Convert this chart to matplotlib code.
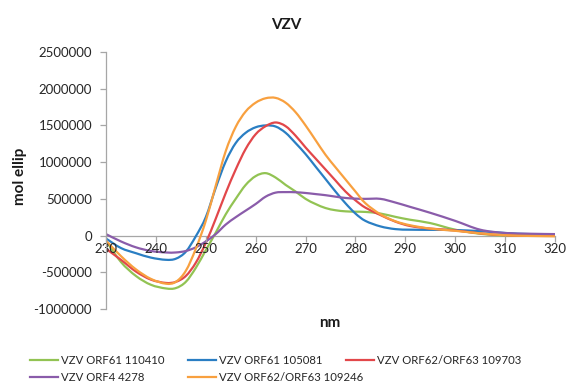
import matplotlib
matplotlib.use("Agg")
import matplotlib.pyplot as plt
import numpy as np
from matplotlib.lines import Line2D
from matplotlib.path import Path
from matplotlib.patches import PathPatch

plt.rcParams['font.family'] = ['Lato', 'DejaVu Sans']

nm = [230, 233, 236, 239, 242, 244, 246, 248, 250, 252, 254, 256, 258, 260, 262,
      264, 266, 268, 270, 272, 274, 276, 278, 280, 282, 285, 288, 291, 295, 300,
      305, 310, 315, 320]

orf61_110410 = [-70000, -360000, -550000, -670000, -720000, -715000, -630000, -440000,
                -200000, 40000, 290000, 500000, 690000, 810000, 850000, 790000, 690000,
                600000, 500000, 430000, 375000, 345000, 330000, 325000, 322000, 300000,
                255000, 215000, 170000, 80000, 25000, 0, 0, 0]
orf61_105081 = [-40000, -170000, -240000, -300000, -330000, -315000, -220000, -10000,
                250000, 650000, 1010000, 1260000, 1400000, 1475000, 1500000, 1485000,
                1400000, 1260000, 1110000, 940000, 770000, 600000, 440000, 300000,
                200000, 125000, 88000, 80000, 78000, 75000, 60000, 35000, 20000, 10000]
orf62_109703 = [-180000, -330000, -490000, -600000, -645000, -630000, -550000, -370000,
                -100000, 230000, 580000, 900000, 1180000, 1380000, 1490000, 1540000,
                1490000, 1360000, 1200000, 1050000, 900000, 750000, 600000, 480000,
                380000, 280000, 190000, 130000, 95000, 70000, 30000, 5000, 0, 0]
orf4_4278 = [20000, -80000, -160000, -210000, -230000, -230000, -210000, -160000,
             -80000, 20000, 150000, 250000, 340000, 430000, 530000, 585000, 592000,
             590000, 580000, 565000, 550000, 530000, 512000, 503000, 500000, 500000,
             450000, 390000, 310000, 200000, 80000, 35000, 25000, 20000]
orf62_109246 = [-70000, -280000, -460000, -590000, -655000, -630000, -480000, -180000,
                200000, 680000, 1150000, 1480000, 1690000, 1810000, 1870000, 1875000,
                1810000, 1680000, 1500000, 1300000, 1100000, 930000, 765000, 600000,
                440000, 290000, 195000, 140000, 95000, 65000, 30000, 5000, -5000, -10000]

series_labels = ["VZV ORF61 110410", "VZV ORF61 105081", "VZV ORF62/ORF63 109703",
                 "VZV ORF4 4278", "VZV ORF62/ORF63 109246"]
series_values = [orf61_110410, orf61_105081, orf62_109703, orf4_4278, orf62_109246]
colors = ["#92C353", "#2A7EC3", "#E2474A", "#8A5CAA", "#F8A03F"]

yticks = [-1000000, -500000, 0, 500000, 1000000, 1500000, 2000000, 2500000]
xticks = [230, 240, 250, 260, 270, 280, 290, 300, 310, 320]


def smooth_path(xs, ys, tension=1/6):
    """Catmull-Rom style Bezier path through the data points (like a smoothed line)."""
    x = np.asarray(xs, float)
    y = np.asarray(ys, float)
    n = len(x)
    verts = [(x[0], y[0])]
    codes = [Path.MOVETO]
    for i in range(n - 1):
        i0 = max(i - 1, 0)
        i3 = min(i + 2, n - 1)
        c1 = (x[i] + (x[i + 1] - x[i0]) * tension, y[i] + (y[i + 1] - y[i0]) * tension)
        c2 = (x[i + 1] - (x[i3] - x[i]) * tension, y[i + 1] - (y[i3] - y[i]) * tension)
        verts += [c1, c2, (x[i + 1], y[i + 1])]
        codes += [Path.CURVE4] * 3
    return Path(verts, codes)


fig = plt.figure(figsize=(5.67, 3.92), dpi=100)
ax = fig.add_axes([106/567, 1-309/392, (555-106)/567, (309-52)/392])

handles = []
for vals, c, lab in zip(series_values, colors, series_labels):
    patch = PathPatch(smooth_path(nm, vals), facecolor='none', edgecolor=c, lw=1.6,
                      capstyle='round', joinstyle='round')
    ax.add_patch(patch)
    handles.append(Line2D([], [], color=c, lw=1.6, label=lab))

ax.set_xlim(230, 320)
ax.set_ylim(-1000000, 2500000)
ax.set_yticks(yticks)
ax.set_yticklabels([str(v) for v in yticks])
ax.set_xticks(xticks)
ax.set_xticklabels([str(v) for v in xticks])

gray = "#A6A6A6"
for s in ['top', 'right']:
    ax.spines[s].set_visible(False)
ax.spines['left'].set_color(gray)
ax.spines['bottom'].set_color(gray)
ax.spines['bottom'].set_position(('data', 0))
ax.spines['left'].set_linewidth(0.9)
ax.spines['bottom'].set_linewidth(0.9)
ax.spines['bottom'].set_zorder(0.5)
ax.tick_params(axis='both', colors=gray, labelcolor='#262626', labelsize=9.5,
               length=4, width=0.9, direction='out')
ax.tick_params(axis='x', pad=1)
ax.tick_params(axis='y', pad=6)

fig.text(286/567, 1-25/392, "VZV", ha='center', va='center', fontsize=11,
         fontweight='bold', color='#1a1a1a')
fig.text(330/567, 1-323/392, "nm", ha='center', va='center', fontsize=11,
         fontweight='bold', color='#1a1a1a')
fig.text(20/567, 1-176/392, "mol ellip", ha='center', va='center', fontsize=11,
         fontweight='bold', rotation=90, color='#1a1a1a')

cols = [[0, 3], [1, 4], [2]]
col_x = [30, 188, 346]
for idxs, x0 in zip(cols, col_x):
    leg = fig.legend([handles[i] for i in idxs], [series_labels[i] for i in idxs],
                     loc='upper left', bbox_to_anchor=(x0/567, 1-355/392),
                     frameon=False, fontsize=8.2, handlelength=2.5, handletextpad=0.2,
                     borderpad=0, borderaxespad=0, labelspacing=0.55, ncol=1)
    for t in leg.get_texts():
        t.set_color('#262626')

fig.savefig("out.png", dpi=100)
